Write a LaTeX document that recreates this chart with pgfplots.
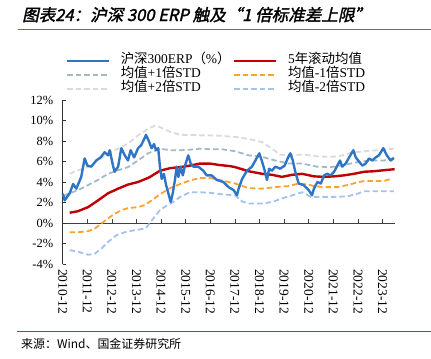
\documentclass[border=0pt]{standalone}
\usepackage{fontspec}
\setmainfont{Liberation Serif}
\newfontfamily\cjk{Noto Sans CJK SC}
\newfontfamily\cjkt[FakeSlant=0.22,FakeBold=1.8]{Noto Sans CJK SC}
\usepackage{pgfplots}
\pgfplotsset{compat=1.18}
\definecolor{erpblue}{RGB}{47,117,198}
\definecolor{meanred}{RGB}{192,0,0}
\definecolor{pone}{RGB}{162,185,200}
\definecolor{ptwo}{RGB}{218,218,218}
\definecolor{mone}{RGB}{250,163,45}
\definecolor{mtwo}{RGB}{164,194,236}
\definecolor{titleline}{RGB}{65,123,155}
\definecolor{botline}{RGB}{45,102,144}
\pgfplotsset{common/.style={
  at={(62.7bp,-264bp)}, anchor=south west, scale only axis,
  width=332.3bp, height=164bp,
  xmin=2010.917, xmax=2024.425, ymin=-4, ymax=12, clip=false}}
\begin{document}
\begin{tikzpicture}
\useasboundingbox (0,0) rectangle (431bp,-359bp);
\node[anchor=base west, inner sep=0pt] at (22bp,-21bp) {\fontsize{16.6}{17}\selectfont\cjkt 图表24：沪深 300 ERP 触及“1 倍标准差上限”};
\draw[color=titleline, line width=1.5bp] (18bp,-29.5bp) -- (431bp,-29.5bp);
\draw[color=botline, line width=1.3bp] (17bp,-331.5bp) -- (431bp,-331.5bp);
\node[anchor=base west, inner sep=0pt] at (21bp,-348bp) {\fontsize{12}{12}\selectfont\cjk 来源：Wind、国金证券研究所};
% zero line with ticks
\begin{axis}[common,
  axis x line*=middle, axis y line=none,
  x axis line style={black!75, line width=0.8bp},
  xtick={2011.917,2012.917,2013.917,2014.917,2015.917,2016.917,2017.917,2018.917,2019.917,2020.917,2021.917,2022.917,2023.917},
  xticklabels={}, ytick=\empty,
  xtick align=inside, major tick length=4bp,
  xtick style={black!75, line width=0.8bp},
]
\addplot[draw=none, forget plot] coordinates {(2011,0)};
\end{axis}
\begin{axis}[common,
  axis y line*=left, axis x line*=bottom,
  x axis line style={draw=none},
  y axis line style={black!80, line width=0.8bp},
  xtick style={draw=none},
  ytick style={black!80, line width=0.8bp},
  tick align=inside, major tick length=3bp,
  /pgf/number format/assume math mode=true,
  ytick={-4,-2,0,2,4,6,8,10,12},
  yticklabel={\pgfmathprintnumber{\tick}\%},
  yticklabel style={font=\fontsize{12.5}{13}\selectfont, xshift=-6bp},
  xtick={2010.917,2011.917,2012.917,2013.917,2014.917,2015.917,2016.917,2017.917,2018.917,2019.917,2020.917,2021.917,2022.917,2023.917},
  xticklabels={2010-12,2011-12,2012-12,2013-12,2014-12,2015-12,2016-12,2017-12,2018-12,2019-12,2020-12,2021-12,2022-12,2023-12},
  xticklabel style={font=\fontsize{13.5}{14}\selectfont, rotate=-90, anchor=west, inner xsep=5bp},
  legend columns=2,
  legend style={at={(axis description cs:0.009,1.282)}, anchor=north west, draw=none, fill=none, inner sep=0pt,
    font=\fontsize{13.5}{14}\selectfont,
    nodes={inner xsep=2.5bp, inner ysep=0pt, text height=10bp, text depth=4bp},
    /tikz/every odd column/.append style={column sep=8bp}},
  legend cell align=left,
  legend image code/.code={\draw[#1] (0bp,0bp) -- (42bp,0bp);},
]
\addlegendimage{erpblue, line width=2.4bp}
\addlegendentry{{\cjk 沪深}300ERP{\cjk （}\%{\cjk ）}}
\addlegendimage{meanred, line width=2.4bp}
\addlegendentry{5{\cjk 年滚动均值}}
\addlegendimage{pone, line width=1.8bp, dash pattern=on 5.5bp off 3bp}
\addlegendentry{{\cjk 均值}+1{\cjk 倍}STD}
\addlegendimage{mone, line width=1.8bp, dash pattern=on 5.5bp off 3bp}
\addlegendentry{{\cjk 均值}-1{\cjk 倍}STD}
\addlegendimage{ptwo, line width=1.8bp, dash pattern=on 5.5bp off 3bp}
\addlegendentry{{\cjk 均值}+2{\cjk 倍}STD}
\addlegendimage{mtwo, line width=1.8bp, dash pattern=on 5.5bp off 3bp}
\addlegendentry{{\cjk 均值}-2{\cjk 倍}STD}
% +2 STD
\addplot[ptwo, line width=1.8bp, dash pattern=on 5.5bp off 3bp, forget plot] coordinates {
(2011.20,4.8)(2011.54,5.15)(2011.95,5.45)(2012.35,6.1)(2012.76,6.8)(2013.17,7.25)(2013.57,7.75)(2013.98,8.55)(2014.39,9.2)(2014.67,9.5)(2014.87,9.35)(2015.28,8.9)(2015.69,8.6)(2016.09,8.6)(2016.50,8.55)(2016.90,8.55)(2017.39,8.5)(2017.93,8.4)(2018.48,8.2)(2019.02,7.9)(2019.43,7.25)(2019.76,6.65)(2020.24,6.65)(2020.77,6.65)(2021.27,6.5)(2021.81,6.45)(2022.22,6.55)(2022.62,6.85)(2023.17,7.0)(2023.71,7.1)(2024.38,7.25)};
% +1 STD
\addplot[pone, line width=1.8bp, dash pattern=on 5.5bp off 3bp, forget plot] coordinates {
(2010.95,2.6)(2011.13,2.85)(2011.54,3.2)(2011.95,3.7)(2012.35,4.2)(2012.76,4.8)(2013.17,5.15)(2013.57,5.45)(2013.98,6.1)(2014.39,6.8)(2014.87,7.25)(2015.28,7.1)(2015.69,7.1)(2016.09,7.15)(2016.50,7.25)(2016.90,7.2)(2017.39,7.2)(2017.93,7.0)(2018.48,6.6)(2019.02,6.45)(2019.56,6.1)(2020.10,5.8)(2020.65,5.8)(2021.25,5.5)(2021.81,5.45)(2022.22,5.6)(2022.62,5.8)(2023.03,6.0)(2023.57,6.1)(2023.98,6.1)(2024.38,6.3)};
% -1 STD
\addplot[mone, line width=1.8bp, dash pattern=on 5.5bp off 3bp, forget plot] coordinates {
(2011.20,-0.9)(2011.54,-0.9)(2011.95,-0.8)(2012.22,-0.55)(2012.49,-0.05)(2012.76,0.45)(2013.03,0.9)(2013.30,1.25)(2013.57,1.45)(2013.98,1.55)(2014.25,1.75)(2014.47,2.1)(2014.87,2.8)(2015.28,3.4)(2015.69,3.8)(2016.09,4.15)(2016.50,4.4)(2016.90,4.4)(2017.39,4.15)(2017.93,3.85)(2018.48,3.4)(2019.02,3.35)(2019.56,3.5)(2020.10,3.6)(2020.51,3.85)(2020.92,3.75)(2021.13,3.6)(2021.54,3.5)(2022.08,3.5)(2022.49,3.7)(2022.89,3.95)(2023.17,4.1)(2023.57,4.1)(2023.98,4.1)(2024.32,4.35)};
% -2 STD
\addplot[mtwo, line width=1.8bp, dash pattern=on 5.5bp off 3bp, forget plot] coordinates {
(2011.20,-2.65)(2011.54,-2.8)(2011.95,-3.1)(2012.22,-3.0)(2012.49,-2.5)(2012.76,-1.85)(2013.10,-1.2)(2013.44,-0.9)(2013.84,-0.7)(2014.25,-0.55)(2014.33,-0.4)(2014.60,0.45)(2014.87,1.25)(2015.14,1.7)(2015.41,2.05)(2015.69,2.55)(2016.09,3.0)(2016.50,3.0)(2016.90,2.95)(2017.39,2.8)(2017.93,2.7)(2018.21,2.1)(2018.48,1.9)(2019.02,1.9)(2019.43,2.05)(2019.83,2.4)(2020.24,2.7)(2020.65,3.0)(2021.00,2.55)(2021.41,2.55)(2021.95,2.55)(2022.49,2.6)(2022.89,2.85)(2023.17,3.1)(2024.38,3.1)};
% 5-year rolling mean
\addplot[meanred, line width=2.4bp, forget plot] coordinates {
(2011.20,1.0)(2011.54,1.15)(2011.95,1.55)(2012.35,2.2)(2012.76,2.9)(2013.17,3.35)(2013.57,3.75)(2013.98,4.0)(2014.39,4.4)(2014.47,4.5)(2014.87,5.1)(2015.28,5.35)(2015.69,5.45)(2016.09,5.6)(2016.50,5.8)(2016.90,5.8)(2017.31,5.65)(2017.72,5.55)(2017.93,5.45)(2018.48,5.05)(2019.02,4.8)(2019.43,4.7)(2019.83,4.5)(2020.24,4.7)(2020.65,4.8)(2021.13,4.55)(2021.54,4.5)(2021.95,4.55)(2022.35,4.65)(2022.76,4.8)(2023.17,5.0)(2023.57,5.05)(2023.98,5.15)(2024.41,5.25)};
% ERP
\addplot[erpblue, line width=2.4bp, line join=round, forget plot] coordinates {
(2010.92,2.87)(2011.00,2.2)(2011.20,2.9)(2011.34,3.8)(2011.47,3.35)(2011.67,4.5)(2011.81,6.3)(2011.92,5.6)(2012.08,5.5)(2012.28,6.1)(2012.46,6.4)(2012.62,6.9)(2012.76,6.6)(2012.83,7.1)(2012.96,5.6)(2013.03,5.0)(2013.17,5.5)(2013.30,7.3)(2013.44,6.6)(2013.57,6.1)(2013.68,7.1)(2013.82,6.4)(2013.98,7.3)(2014.11,7.6)(2014.27,8.4)(2014.30,8.6)(2014.40,8.1)(2014.53,7.3)(2014.63,7.7)(2014.71,7.1)(2014.80,7.3)(2014.87,5.5)(2014.94,4.3)(2015.03,4.8)(2015.12,3.7)(2015.21,2.9)(2015.31,2.05)(2015.39,2.9)(2015.48,4.2)(2015.55,5.5)(2015.62,4.5)(2015.71,5.5)(2015.80,4.65)(2015.89,5.6)(2016.02,6.6)(2016.12,5.8)(2016.23,5.5)(2016.43,5.5)(2016.63,5.1)(2016.77,4.65)(2016.97,4.65)(2017.18,4.2)(2017.45,4.0)(2017.66,3.5)(2017.87,3.2)(2018.00,2.7)(2018.07,3.35)(2018.21,4.3)(2018.41,5.1)(2018.61,5.5)(2018.75,6.1)(2018.91,6.8)(2019.02,6.0)(2019.13,5.1)(2019.22,4.2)(2019.31,5.3)(2019.42,5.1)(2019.56,5.5)(2019.76,5.3)(2019.94,5.6)(2020.08,6.4)(2020.17,6.8)(2020.27,6.1)(2020.37,5.0)(2020.51,3.85)(2020.71,3.7)(2020.92,3.2)(2021.05,2.7)(2021.13,3.35)(2021.27,4.0)(2021.41,3.85)(2021.54,4.65)(2021.67,4.8)(2021.81,4.65)(2021.95,5.0)(2022.08,5.6)(2022.19,6.1)(2022.28,5.5)(2022.42,5.8)(2022.56,6.4)(2022.73,7.1)(2022.83,6.4)(2022.96,6.0)(2023.10,5.6)(2023.23,5.8)(2023.37,6.3)(2023.50,6.1)(2023.64,6.4)(2023.77,6.6)(2023.95,7.3)(2024.09,6.6)(2024.25,6.1)(2024.38,6.35)};
\end{axis}
\end{tikzpicture}
\end{document}
